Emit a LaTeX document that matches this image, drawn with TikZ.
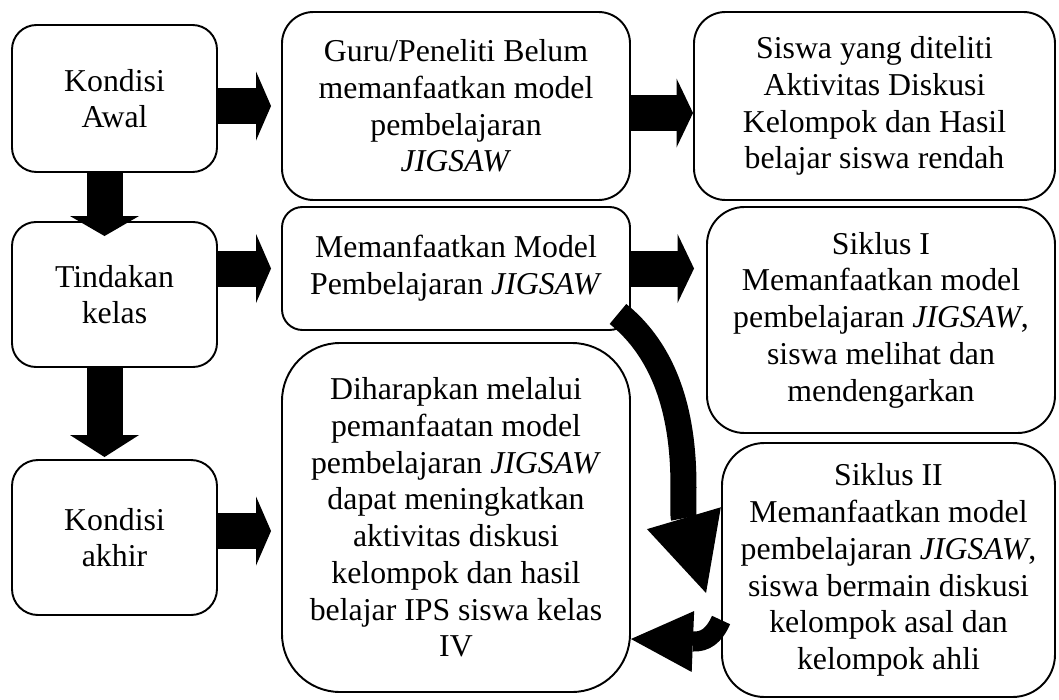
\documentclass[tikz,border=0pt]{standalone}
\usepackage{fontspec}
\setmainfont{Liberation Serif}
\usepackage{tikz}
\usetikzlibrary{positioning,arrows.meta}

\begin{document}
\begin{tikzpicture}[
    box/.style={
        draw,
        line width=1.1pt,
        inner sep=0pt,
        align=center,
        font=\fontsize{18.1}{20.9}\selectfont
    },
    flow/.style={line width=0.72cm, -{Triangle[length=#1, width=1.38cm, line width=0pt]}},
    flow/.default=0.3cm,
    bigcurve/.style={line width=0.52cm, -{Triangle[length=1.56cm, width=1.54cm, line width=0pt]}},
    smallcurve/.style={line width=0.4cm, -{Triangle[length=1.24cm, width=1.22cm, line width=0pt]}}
]
\useasboundingbox (0,0) rectangle (21.18,-14);

% === Kolom kiri ===
\node[box, rounded corners=0.49cm, minimum width=4.10cm, minimum height=2.94cm] (awal) at (2.29, -1.97)
{Kondisi\\Awal};

\node[box, rounded corners=0.48cm, minimum width=4.10cm, minimum height=2.90cm] (tindakan) at (2.29, -5.89)
{Tindakan\\kelas};

\node[box, rounded corners=0.52cm, minimum width=4.10cm, minimum height=3.10cm] (akhir) at (2.29, -10.75)
{Kondisi\\akhir};

% === Kolom tengah ===
\node[box, rounded corners=0.63cm, minimum width=6.96cm, minimum height=3.76cm] (guru) at (9.12, -2.12)
{Guru/Peneliti Belum\\memanfaatkan model\\pembelajaran\\\textit{JIGSAW}};

\node[box, rounded corners=0.41cm, minimum width=6.96cm, minimum height=2.46cm] (memanfaat) at (9.12, -5.37)
{Memanfaatkan Model\\Pembelajaran \textit{JIGSAW}};

\node[box, rounded corners=1.16cm, minimum width=6.96cm, minimum height=6.98cm] (harapan) at (9.12, -10.35)
{Diharapkan melalui\\pemanfaatan model\\pembelajaran \textit{JIGSAW}\\dapat meningkatkan\\aktivitas diskusi\\kelompok dan hasil\\belajar IPS siswa kelas\\IV};

% === Kolom kanan ===
\node[box, rounded corners=0.63cm, minimum width=7.22cm, minimum height=3.76cm] (siswa) at (17.49, -2.12)
{Siswa yang diteliti\\Aktivitas Diskusi\\Kelompok dan Hasil\\belajar siswa rendah};

\node[box, rounded corners=0.75cm, minimum width=6.96cm, minimum height=4.52cm] (siklus1) at (17.62, -6.40)
{Siklus I\\Memanfaatkan model\\pembelajaran \textit{JIGSAW},\\siswa melihat dan\\mendengarkan};

\node[box, rounded corners=0.85cm, minimum width=6.66cm, minimum height=5.08cm] (siklus2) at (17.77, -11.40)
{Siklus II\\Memanfaatkan model\\pembelajaran \textit{JIGSAW},\\siswa bermain diskusi\\kelompok asal dan\\kelompok ahli};

% === Panah ke bawah ===
\draw[flow=0.4cm, shorten >=-0.3cm] ([xshift=-0.2cm]awal.south) -- ([xshift=-0.2cm]awal.south |- tindakan.north);
\draw[flow=0.44cm, shorten >=0.04cm] ([xshift=-0.2cm]tindakan.south) -- ([xshift=-0.2cm]tindakan.south |- akhir.north);

% === Panah ke kanan ===
\draw[flow, shorten >=0.2cm] (awal.east |- guru.west) -- (guru.west);
\draw[flow, shorten >=0.2cm] (tindakan.east |- memanfaat.west) -- (memanfaat.west);
\draw[flow, shorten >=0.2cm] ([yshift=0.13cm]akhir.east) -- ([yshift=0.13cm]akhir.east -| harapan.west);
\draw[flow=0.33cm] ([yshift=-0.14cm]guru.east) -- ([yshift=-0.14cm]guru.east -| siswa.west);
\draw[flow=0.33cm, shorten >=0.24cm] (memanfaat.east) -- (memanfaat.east -| siklus1.west);

% === Panah lengkung ===
\draw[bigcurve] ([xshift=-0.26cm, yshift=0.34cm]memanfaat.south east)
    .. controls (14.00,-7.60) and (13.60,-10.10) .. ([xshift=-0.30cm, yshift=-0.46cm]siklus2.west);
\draw[smallcurve] ([yshift=-1.0cm]siklus2.west)
    .. controls (14.28,-12.72) and (14.10,-12.84) .. ([yshift=-2.43cm]harapan.east);

\end{tikzpicture}
\end{document}
